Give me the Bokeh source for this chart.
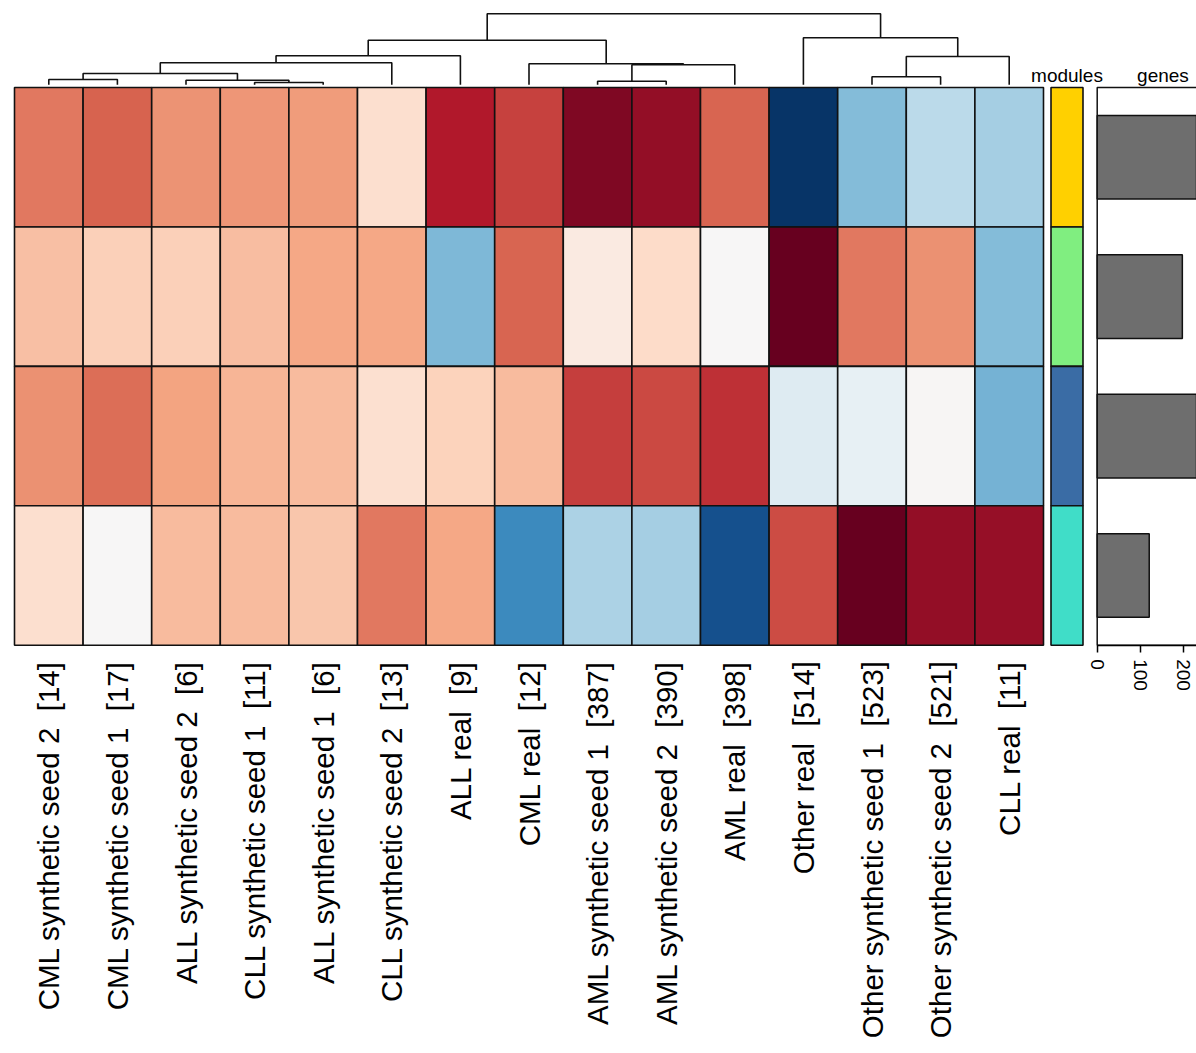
import numpy as np
from bokeh.plotting import figure
from bokeh.models import ColumnDataSource, LinearColorMapper, Range1d, LinearAxis, FixedTicker
from bokeh.core.properties import value
from bokeh.embed import file_html
from bokeh.resources import INLINE

# ---------------- data ----------------
samples = [
    "CML synthetic seed 2  [14]", "CML synthetic seed 1  [17]", "ALL synthetic seed 2  [6]",
    "CLL synthetic seed 1  [11]", "ALL synthetic seed 1  [6]", "CLL synthetic seed 2  [13]",
    "ALL real  [9]", "CML real  [12]", "AML synthetic seed 1  [387]", "AML synthetic seed 2  [390]",
    "AML real  [398]", "Other real  [514]", "Other synthetic seed 1  [523]",
    "Other synthetic seed 2  [521]", "CLL real  [11]",
]
modules = ["module 1", "module 2", "module 3", "module 4"]
module_colors = ["#FFD000", "#80EE80", "#3A6CA5", "#40DDC8"]
module_1 = [0.53, 0.59, 0.45, 0.44, 0.425, 0.165, 0.80, 0.68, 0.93, 0.88, 0.58, -0.98, -0.435, -0.27, -0.34]
module_2 = [0.30, 0.237, 0.24, 0.31, 0.39, 0.39, -0.45, 0.58, 0.086, 0.19, 0.0, 1.0, 0.53, 0.46, -0.43]
module_3 = [0.46, 0.56, 0.40, 0.337, 0.315, 0.157, 0.233, 0.32, 0.69, 0.66, 0.73, -0.13, -0.08, 0.01, -0.47]
module_4 = [0.17, 0.0, 0.32, 0.32, 0.28, 0.53, 0.39, -0.64, -0.32, -0.34, -0.88, 0.656, 1.0, 0.88, 0.87]
genes = [290, 198, 280, 121]
genes_ticks = [0, 100, 200, 300]
# column dendrogram (children: leaf index < 15, merge index >= 15)
merges = [(3, 4), (8, 9), (0, 1), (2, 15), (12, 13), (17, 18), (16, 10), (7, 21),
          (20, 5), (19, 14), (23, 6), (25, 22), (11, 24), (26, 27)]
merge_heights = [2.3, 3.6, 5.3, 4.6, 8.0, 11.3, 20.0, 21.0, 22.0, 28.3, 29.0, 44.6, 47.0, 71.0]

# ---------------- layout constants (page px) ----------------
W, H = 1196, 1053
OX, OY = 0, 0
HX0, COLW = 14.0, 68.6
HY0, ROWH = 87.0, 139.425
HB = HY0 + 4 * ROWH
G0, GS = 1096.7, 0.43
D0 = 84.3

x_range = Range1d((OX - HX0) / COLW, (OX + W - HX0) / COLW)
y_range = Range1d((HB - (OY + H)) / ROWH, (HB - OY) / ROWH)

p = figure(width=W, height=H, x_range=x_range, y_range=y_range,
           x_axis_type=None, y_axis_type=None, toolbar_location=None,
           output_backend="svg", min_border=0, outline_line_color=None,
           background_fill_color="white", border_fill_color="white")
p.extra_x_ranges = {"genes": Range1d((OX - G0) / GS, (OX + W - G0) / GS)}
p.extra_y_ranges = {"dend": Range1d(D0 - (OY + H), D0 - OY)}
p.grid.visible = False

# palette: RdBu (blue -> red)
rdbu = ["#053061", "#2166ac", "#4393c3", "#92c5de", "#d1e5f0", "#f7f7f7",
        "#fddbc7", "#f4a582", "#d6604d", "#b2182b", "#67001f"]
anchors = np.array([[int(c[i:i + 2], 16) for i in (1, 3, 5)] for c in rdbu], dtype=float)
t = np.linspace(0, len(rdbu) - 1, 256)
palette = []
for tt in t:
    i = min(int(np.floor(tt)), len(rdbu) - 2)
    f = tt - i
    c = anchors[i] * (1 - f) + anchors[i + 1] * f
    palette.append("#%02x%02x%02x" % tuple(int(round(v)) for v in c))
mapper = LinearColorMapper(palette=palette, low=-1, high=1)

# heatmap
rows = [module_1, module_2, module_3, module_4]
hx, hy, hv = [], [], []
for r, vals in enumerate(rows):
    for c, v in enumerate(vals):
        hx.append(c + 0.5)
        hy.append(3.5 - r)
        hv.append(v)
p.rect(x="x", y="y", width=1, height=1, source=ColumnDataSource(dict(x=hx, y=hy, v=hv)),
       fill_color={"field": "v", "transform": mapper}, line_color="#111111", line_width=1.6)

# modules annotation
mx0, mx1 = (1050.5 - HX0) / COLW, (1082.5 - HX0) / COLW
p.rect(x=[(mx0 + mx1) / 2] * 4, y=[3.5 - r for r in range(4)], width=mx1 - mx0, height=1,
       fill_color=module_colors, line_color="#111111", line_width=1.6)
TITLE_Y = (HB - 74.5) / ROWH
p.text(x=[(mx0 + mx1) / 2], y=[TITLE_Y], text=["modules"], text_align="center",
       text_baseline="alphabetic", text_font=value("Liberation Sans"), text_font_size="19px",
       text_color="black")

# genes bar annotation
p.quad(left=[0], right=[330], bottom=[0], top=[4], fill_color=None, line_color="#111111",
       line_width=1.5, x_range_name="genes")
p.hbar(y=[3.5 - r for r in range(4)], left=0, right=genes, height=0.6, fill_color="#6E6E6E",
       line_color="#111111", line_width=1.5, x_range_name="genes")
p.text(x=[153], y=[TITLE_Y], text=["genes"], text_align="center",
       text_baseline="alphabetic", text_font=value("Liberation Sans"), text_font_size="19px",
       text_color="black", x_range_name="genes")
ax = LinearAxis(x_range_name="genes", fixed_location=0, bounds=(0, 330),
                ticker=FixedTicker(ticks=genes_ticks), major_label_orientation="vertical")
ax.axis_line_width = 1.5
ax.major_tick_line_width = 1.5
ax.major_tick_in = 0
ax.major_tick_out = 7
ax.minor_tick_in = 0
ax.minor_tick_out = 0
ax.major_label_standoff = 7
ax.major_label_text_font = "Liberation Sans"
ax.major_label_text_font_size = "19px"
ax.major_label_text_color = "black"
p.add_layout(ax, "below")

# column dendrogram
n = len(samples)
pos = {i: i + 0.5 for i in range(n)}
hgt = {i: 0.0 for i in range(n)}
dx, dy = [], []
for k, ((a, b), h) in enumerate(zip(merges, merge_heights)):
    dx.append([pos[a], pos[a], pos[b], pos[b]])
    dy.append([hgt[a], h, h, hgt[b]])
    pos[n + k] = (pos[a] + pos[b]) / 2
    hgt[n + k] = h
p.multi_line(xs=dx, ys=dy, line_color="#111111", line_width=1.6, y_range_name="dend")

# column labels (second space kept as a no-break space so SVG does not collapse it)
shown = [s.replace("  ", " \u00a0") for s in samples]
p.text(x=[i + 0.5 for i in range(n)], y=[(HB - 660.5) / ROWH] * n, text=shown,
       angle=np.pi / 2, text_align="right", text_baseline="middle",
       text_font=value("Liberation Sans"), text_font_size="29.5px", text_color="black")

open("out.html", "w").write(file_html(p, INLINE))
